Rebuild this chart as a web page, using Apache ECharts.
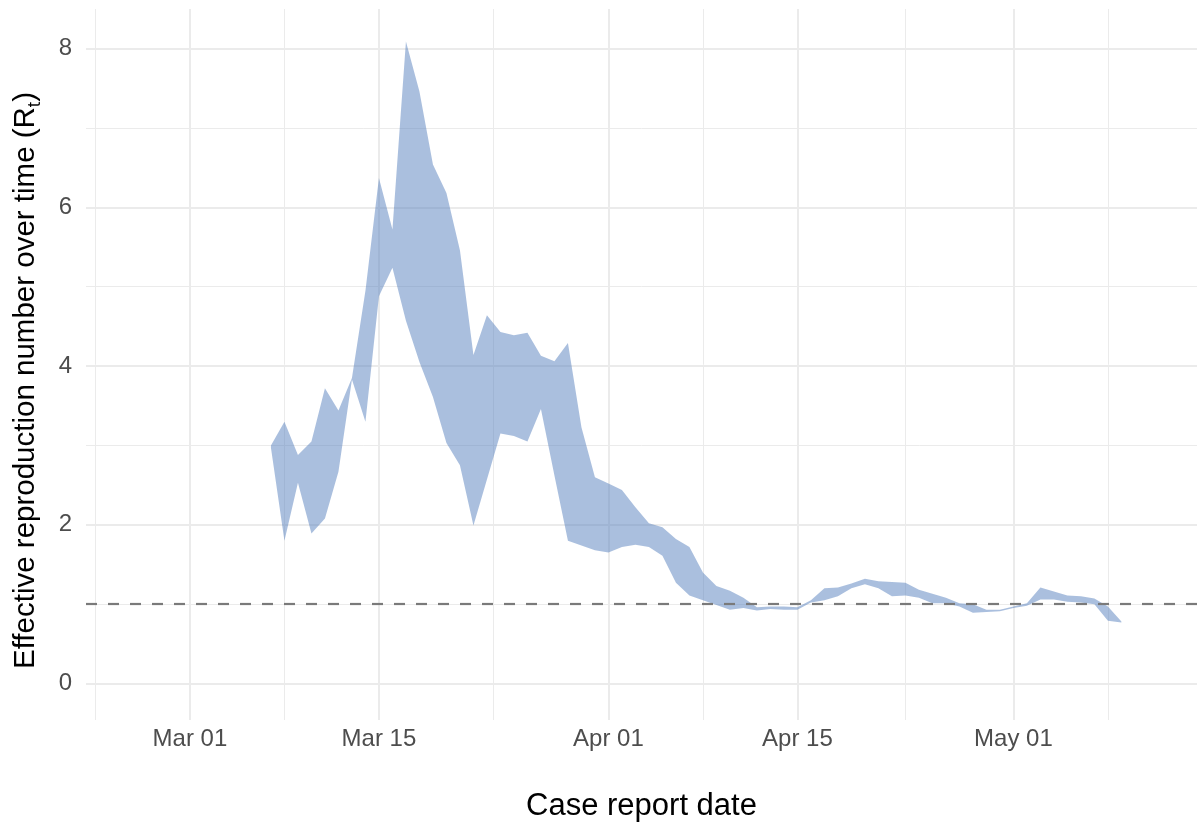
<!DOCTYPE html>
<html>
<head>
<meta charset="utf-8">
<script src="https://cdn.jsdelivr.net/npm/echarts@6/dist/echarts.min.js"></script>
<style>
html,body{margin:0;padding:0;background:#fff;}
#chart{width:1201px;height:828px;}
</style>
</head>
<body>
<div id="chart"></div>
<script>
// ---- data ----
const dates = ['03-07','03-08','03-09','03-10','03-11','03-12','03-13','03-14','03-15','03-16',
  '03-17','03-18','03-19','03-20','03-21','03-22','03-23','03-24','03-25','03-26',
  '03-27','03-28','03-29','03-30','03-31','04-01','04-02','04-03','04-04','04-05',
  '04-06','04-07','04-08','04-09','04-10','04-11','04-12','04-13','04-14','04-15',
  '04-16','04-17','04-18','04-19','04-20','04-21','04-22','04-23','04-24','04-25',
  '04-26','04-27','04-28','04-29','04-30','05-01','05-02','05-03','05-04','05-05',
  '05-06','05-07','05-08','05-09'];
const rtUpper = [3.00,3.30,2.88,3.05,3.72,3.44,3.85,4.95,6.37,5.72,
  8.09,7.46,6.54,6.18,5.46,4.14,4.64,4.43,4.39,4.42,
  4.13,4.06,4.29,3.23,2.60,2.52,2.44,2.22,2.02,1.97,
  1.82,1.72,1.40,1.23,1.17,1.08,0.96,0.97,0.97,0.96,
  1.05,1.20,1.21,1.26,1.32,1.29,1.28,1.27,1.18,1.13,
  1.08,1.01,1.00,0.93,0.93,0.97,1.01,1.21,1.16,1.11,
  1.10,1.07,0.97,0.78];
const rtLower = [2.97,1.80,2.53,1.89,2.08,2.67,3.83,3.30,4.88,5.24,
  4.57,4.05,3.61,3.03,2.75,1.99,2.57,3.15,3.12,3.05,
  3.46,2.62,1.80,1.74,1.68,1.65,1.72,1.75,1.72,1.61,
  1.27,1.11,1.05,0.99,0.93,0.95,0.92,0.94,0.93,0.93,
  1.02,1.05,1.10,1.20,1.25,1.20,1.10,1.11,1.08,1.01,
  1.01,0.97,0.89,0.90,0.91,0.95,0.98,1.06,1.06,1.03,
  1.02,1.00,0.79,0.77];
const xTickDates = ['03-01','03-15','04-01','04-15','05-01'];
const xTickLabels = ['Mar 01','Mar 15','Apr 01','Apr 15','May 01'];
const xMinorDates = ['02-23','03-08','03-23','04-08','04-23','05-08'];
const xMinorHalfDay = [0,0,0.5,0,0,0];   // minor break Mar 23 falls at midday
const yTicks = [0,2,4,6,8];
const yMinor = [1,3,5,7];
const threshold = 1;

// ---- helpers ----
const YEAR = 2020;
function dayOffset(md){
  const [m,d] = md.split('-').map(Number);
  return (Date.UTC(YEAR,m-1,d) - Date.UTC(YEAR,2,1))/86400000;
}
const xs = dates.map(dayOffset);
const bandData = xs.map((x,i)=>[x, rtLower[i], rtUpper[i]]);
const xTickDays = xTickDates.map(dayOffset);
const xMinorDays = xMinorDates.map((d,i)=>dayOffset(d)+xMinorHalfDay[i]);

const GRID = '#EBEBEB';
const gridLines = [];
xTickDays.forEach(v=>gridLines.push({xAxis:v, lineStyle:{color:GRID,width:2,type:'solid'}}));
xMinorDays.forEach(v=>gridLines.push({xAxis:v, lineStyle:{color:GRID,width:1,type:'solid'}}));
yTicks.forEach(v=>gridLines.push({yAxis:v, lineStyle:{color:GRID,width:2,type:'solid'}}));
yMinor.forEach(v=>gridLines.push({yAxis:v, lineStyle:{color:GRID,width:1,type:'solid'}}));

function renderBand(params, api){
  if (params.dataIndex !== 0) return null;
  const n = bandData.length;
  const pts = [];
  for (let i=0;i<n;i++) pts.push(api.coord([bandData[i][0], bandData[i][2]]));
  for (let i=n-1;i>=0;i--) pts.push(api.coord([bandData[i][0], bandData[i][1]]));
  return {
    type:'polygon',
    shape:{points:pts},
    style:{fill:'#4E79B9', opacity:0.48}
  };
}

const FONT = 'Liberation Sans, Arial, Helvetica, sans-serif';
const chart = echarts.init(document.getElementById('chart'), null, {renderer:'canvas'});
chart.setOption({
  animation:false,
  backgroundColor:'#ffffff',
  grid:{left:86, right:4, top:9, bottom:108, containLabel:false, outerBoundsMode:'none'},
  xAxis:{
    type:'value', min:-7.7, max:74.6,
    axisLine:{show:false}, axisTick:{show:false}, splitLine:{show:false},
    axisLabel:{
      customValues: xTickDays,
      formatter:(v)=>{const i=xTickDays.indexOf(v); return i>=0?xTickLabels[i]:'';},
      color:'#4D4D4D', fontSize:24, fontFamily:FONT, margin:7, lineHeight:24
    },
    name:'Case report date', nameLocation:'middle', nameGap:71,
    nameTextStyle:{color:'#000000', fontSize:31, fontFamily:FONT, lineHeight:31}
  },
  yAxis:{
    type:'value', min:-0.46, max:8.5,
    axisLine:{show:false}, axisTick:{show:false}, splitLine:{show:false},
    axisLabel:{
      customValues: yTicks,
      formatter:(v)=>String(v),
      color:'#4D4D4D', fontSize:24, fontFamily:FONT, margin:14
    },
    name:'Effective reproduction number over time (R{sub|t})',
    nameLocation:'middle', nameGap:42, nameRotate:90, nameMoveOverlap:false,
    nameTextStyle:{color:'#000000', fontSize:29.5, fontFamily:FONT, padding:[0,32,0,0],
      rich:{sub:{color:'#000000', fontSize:19, fontFamily:FONT, padding:[18,0,0,0]}}}
  },
  series:[
    {
      name:'grid', type:'line', data:[], z:1, silent:true,
      markLine:{silent:true, z:1, symbol:['none','none'], label:{show:false},
        emphasis:{disabled:true}, animation:false, data:gridLines}
    },
    {
      name:'band', type:'custom', data:bandData, z:2, silent:true,
      encode:{x:0, y:[1,2]},
      renderItem:renderBand
    },
    {
      name:'threshold', type:'line', data:[], z:5, silent:true,
      markLine:{silent:true, z:5, symbol:['none','none'], label:{show:false},
        emphasis:{disabled:true}, animation:false,
        data:[{yAxis:threshold, lineStyle:{color:'#7A7A7A', width:2.2, type:[11,11]}}]}
    }
  ]
});
</script>
</body>
</html>
